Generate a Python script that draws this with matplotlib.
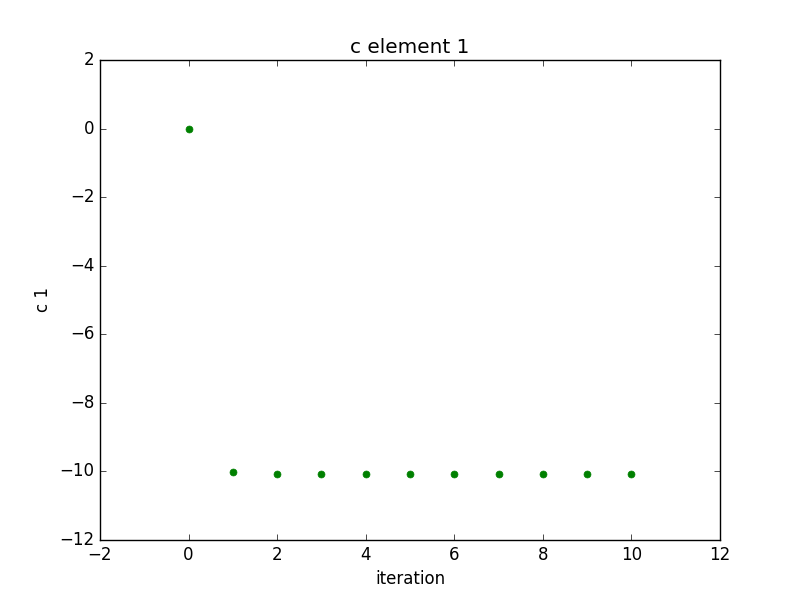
import matplotlib
matplotlib.use('Agg')
import matplotlib.pyplot as plt
import numpy as np

plt.style.use('classic')

iteracao = np.arange(0, 11)
c1 = [0.0, -10.03, -10.08, -10.08, -10.08, -10.08, -10.08, -10.08, -10.08, -10.08, -10.08]

fig = plt.figure(figsize=(8, 6), dpi=100, facecolor='white')
plt.plot(iteracao, c1, 'o', color='green', markeredgecolor='green', markersize=5)
plt.xlim([-2, 12])
plt.ylim([-12, 2])
plt.xlabel('iteration')
plt.ylabel('c 1')
plt.title('c element 1')
plt.savefig('out.png', dpi=100, facecolor='white')
